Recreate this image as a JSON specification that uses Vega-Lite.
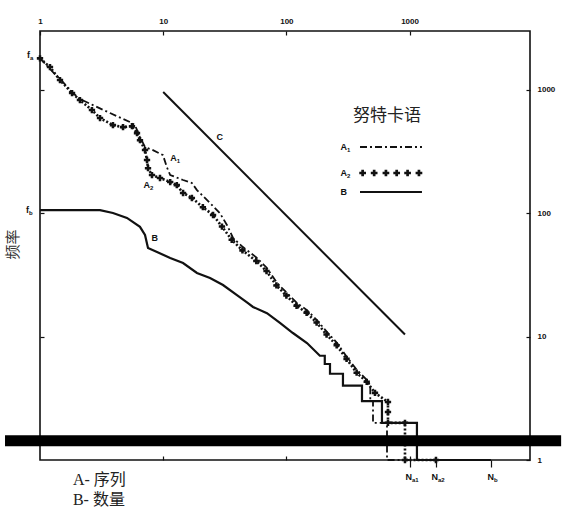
{
  "$schema": "https://vega.github.io/schema/vega-lite/v6.json",
  "width": 490,
  "height": 429,
  "autosize": "none",
  "padding": {"left": 40, "top": 31, "right": 36, "bottom": 54},
  "background": "white",
  "config": {
    "view": {"stroke": "#111", "strokeWidth": 1.6},
    "axis": {"domain": false, "grid": false, "tickColor": "#111", "tickWidth": 1.2, "labelFont": "Liberation Sans", "labelFontWeight": "bold", "labelFontSize": 8, "labelColor": "#111"}
  },
  "datasets": {
    "curves": [
      {"s":"B","i":0,"x":1,"y":106},{"s":"B","i":1,"x":3.07,"y":106},{"s":"B","i":2,"x":3.91,"y":100.5},{"s":"B","i":3,"x":5.08,"y":91.6},{"s":"B","i":4,"x":6.48,"y":77.5},{"s":"B","i":5,"x":7.12,"y":66.7},{"s":"B","i":6,"x":7.53,"y":52.2},{"s":"B","i":7,"x":8.91,"y":48.5},{"s":"B","i":8,"x":11.4,"y":43.4},{"s":"B","i":9,"x":14.5,"y":39.5},{"s":"B","i":10,"x":18.8,"y":32.8},{"s":"B","i":11,"x":24.0,"y":29.9},{"s":"B","i":12,"x":30.6,"y":26.2},{"s":"B","i":13,"x":39.7,"y":21.7},{"s":"B","i":14,"x":48.8,"y":18.7},{"s":"B","i":15,"x":53.6,"y":17.4},{"s":"B","i":16,"x":69.6,"y":15.5},{"s":"B","i":17,"x":88.7,"y":12.9},{"s":"B","i":18,"x":113,"y":10.7},{"s":"B","i":19,"x":147,"y":8.87},{"s":"B","i":20,"x":187,"y":7},{"s":"B","i":21,"x":205,"y":7},{"s":"B","i":22,"x":205,"y":6},{"s":"B","i":23,"x":226,"y":6},{"s":"B","i":24,"x":226,"y":5},{"s":"B","i":25,"x":288,"y":5},{"s":"B","i":26,"x":288,"y":4},{"s":"B","i":27,"x":411,"y":4},{"s":"B","i":28,"x":411,"y":3},{"s":"B","i":29,"x":597,"y":3},{"s":"B","i":30,"x":597,"y":2},{"s":"B","i":31,"x":1148,"y":2},{"s":"B","i":32,"x":1148,"y":1},{"s":"B","i":33,"x":4580,"y":1},
      {"s":"A1","i":0,"x":1,"y":1800},{"s":"A1","i":1,"x":1.275,"y":1394},{"s":"A1","i":2,"x":1.537,"y":1156},{"s":"A1","i":3,"x":1.853,"y":942},{"s":"A1","i":4,"x":2.11,"y":843},{"s":"A1","i":5,"x":2.69,"y":753},{"s":"A1","i":6,"x":3.7,"y":649},{"s":"A1","i":7,"x":5.38,"y":548},{"s":"A1","i":8,"x":5.9,"y":518},{"s":"A1","i":9,"x":6.48,"y":414},{"s":"A1","i":10,"x":7.12,"y":344},{"s":"A1","i":11,"x":8.26,"y":325},{"s":"A1","i":12,"x":9.96,"y":296},{"s":"A1","i":13,"x":10.7,"y":237},{"s":"A1","i":14,"x":11.4,"y":204},{"s":"A1","i":15,"x":14.5,"y":186},{"s":"A1","i":16,"x":17.1,"y":176},{"s":"A1","i":17,"x":18.8,"y":154},{"s":"A1","i":18,"x":24.0,"y":121},{"s":"A1","i":19,"x":28.9,"y":100},{"s":"A1","i":20,"x":33,"y":80},{"s":"A1","i":21,"x":36.9,"y":63},{"s":"A1","i":22,"x":44.4,"y":53.2},{"s":"A1","i":23,"x":57.7,"y":43.4},{"s":"A1","i":24,"x":69.6,"y":36},{"s":"A1","i":25,"x":83.9,"y":27.2},{"s":"A1","i":26,"x":101,"y":22.6},{"s":"A1","i":27,"x":122,"y":18.7},{"s":"A1","i":28,"x":147,"y":16.4},{"s":"A1","i":29,"x":177,"y":13.6},{"s":"A1","i":30,"x":214,"y":10.9},{"s":"A1","i":31,"x":258,"y":8.87},{"s":"A1","i":32,"x":310,"y":6.84},{"s":"A1","i":33,"x":374,"y":5.36},{"s":"A1","i":34,"x":451,"y":4.45},{"s":"A1","i":35,"x":480,"y":4},{"s":"A1","i":36,"x":480,"y":3},{"s":"A1","i":37,"x":505,"y":3},{"s":"A1","i":38,"x":505,"y":2},{"s":"A1","i":39,"x":656,"y":2},{"s":"A1","i":40,"x":656,"y":1},{"s":"A1","i":41,"x":1007,"y":1},
      {"s":"A2","i":0,"x":1,"y":1800},{"s":"A2","i":1,"x":1.205,"y":1530},{"s":"A2","i":2,"x":1.453,"y":1200},{"s":"A2","i":3,"x":1.82,"y":942},{"s":"A2","i":4,"x":2.11,"y":827},{"s":"A2","i":5,"x":2.64,"y":686},{"s":"A2","i":6,"x":3.07,"y":591},{"s":"A2","i":7,"x":3.91,"y":518},{"s":"A2","i":8,"x":4.72,"y":499},{"s":"A2","i":9,"x":5.58,"y":508},{"s":"A2","i":10,"x":6.13,"y":446},{"s":"A2","i":11,"x":6.48,"y":391},{"s":"A2","i":12,"x":7.12,"y":325},{"s":"A2","i":13,"x":7.39,"y":270},{"s":"A2","i":14,"x":7.53,"y":232},{"s":"A2","i":15,"x":8.11,"y":204},{"s":"A2","i":16,"x":9.42,"y":193},{"s":"A2","i":17,"x":11.4,"y":179},{"s":"A2","i":18,"x":12.9,"y":169},{"s":"A2","i":19,"x":14.5,"y":146},{"s":"A2","i":20,"x":17.1,"y":133},{"s":"A2","i":21,"x":21,"y":112},{"s":"A2","i":22,"x":25.4,"y":96.8},{"s":"A2","i":23,"x":30,"y":78},{"s":"A2","i":24,"x":36,"y":61},{"s":"A2","i":25,"x":44,"y":50},{"s":"A2","i":26,"x":57,"y":41},{"s":"A2","i":27,"x":69,"y":34},{"s":"A2","i":28,"x":83,"y":26},{"s":"A2","i":29,"x":100,"y":21.5},{"s":"A2","i":30,"x":121,"y":17.8},{"s":"A2","i":31,"x":146,"y":15.6},{"s":"A2","i":32,"x":176,"y":13},{"s":"A2","i":33,"x":212,"y":10.4},{"s":"A2","i":34,"x":256,"y":8.5},{"s":"A2","i":35,"x":308,"y":6.6},{"s":"A2","i":36,"x":372,"y":5.1},{"s":"A2","i":37,"x":449,"y":4.3},{"s":"A2","i":38,"x":524,"y":3.5},{"s":"A2","i":39,"x":668,"y":2.95},{"s":"A2","i":40,"x":668,"y":2.45},{"s":"A2","i":41,"x":668,"y":2},{"s":"A2","i":42,"x":918,"y":2},{"s":"A2","i":43,"x":918,"y":1},{"s":"A2","i":44,"x":1638,"y":1},
      {"s":"C","i":0,"x":10,"y":960},{"s":"C","i":1,"x":918,"y":10.4}
    ],
    "labels": [
      {"x":0.83,"y":1915,"t":"f","u":"a"},
      {"x":0.814,"y":106,"t":"f","u":"b"},
      {"x":1046,"y":0.728,"t":"N","u":"a1"},
      {"x":1701,"y":0.728,"t":"N","u":"a2"},
      {"x":4842,"y":0.728,"t":"N","u":"b"},
      {"x":12.9,"y":280,"t":"A","u":"1"},
      {"x":7.81,"y":169,"t":"A","u":"2"},
      {"x":9.07,"y":63,"t":"B","u":""},
      {"x":30.6,"y":414,"t":"C","u":""},
      {"x":310,"y":344,"t":"A","u":"1"},
      {"x":310,"y":212,"t":"A","u":"2"},
      {"x":310,"y":149,"t":"B","u":""}
    ],
    "legendLines": [
      {"s":"A1","x":396,"x2":1261,"y":344},
      {"s":"B","x":396,"x2":1261,"y":149}
    ],
    "legendCross": [
      {"x":416,"y":212},{"x":516,"y":212},{"x":643,"y":212},{"x":786,"y":212},{"x":964,"y":212},{"x":1192,"y":212}
    ],
    "notes": [
      {"x":1.85,"y":0.689,"t":"A- 序列"},
      {"x":1.85,"y":0.474,"t":"B- 数量"}
    ],
    "title": [
      {"x":656,"y":619,"t":"努特卡语"}
    ],
    "bar": [
      {"x":0.52,"x2":17000,"y":1.43}
    ]
  },
  "resolve": {"axis": {"x": "independent", "y": "independent"}},
  "layer": [
    {
      "data": {"name": "curves"},
      "transform": [{"filter": "datum.s === 'B'"}],
      "mark": {"type": "line", "color": "#111", "strokeWidth": 2.2, "interpolate": "linear"},
      "encoding": {
        "x": {"field": "x", "type": "quantitative", "scale": {"type": "log", "domain": [1, 9500], "nice": false}, "title": null,
              "axis": {"orient": "top", "values": [1, 10, 100, 1000], "format": "d", "tickSize": -4, "labelPadding": 10, "labelFlush": false}},
        "y": {"field": "y", "type": "quantitative", "scale": {"type": "log", "domain": [1, 3000], "nice": false}, "title": null,
              "axis": {"orient": "right", "values": [1, 10, 100, 1000], "format": "d", "tickSize": -4, "labelPadding": 11, "labelFlush": false}},
        "order": {"field": "i", "type": "quantitative"}
      }
    },
    {
      "data": {"name": "curves"},
      "transform": [{"filter": "datum.s === 'A1'"}],
      "mark": {"type": "line", "color": "#111", "strokeWidth": 1.8, "strokeDash": [7, 3, 2, 3]},
      "encoding": {
        "x": {"field": "x", "type": "quantitative", "scale": {"type": "log", "domain": [1, 9500], "nice": false}, "title": null,
              "axis": {"orient": "bottom", "values": [10, 100, 1000], "tickSize": -4, "labels": false}},
        "y": {"field": "y", "type": "quantitative", "scale": {"type": "log", "domain": [1, 3000], "nice": false}, "title": "频率",
              "axis": {"orient": "left", "values": [10, 100, 1000], "tickSize": -4, "labels": false, "titleX": -20, "titleY": 213, "titleFont": "Noto Sans CJK SC", "titleFontSize": 15, "titleFontWeight": "normal", "titleColor": "#333", "titleAngle": -90}},
        "order": {"field": "i", "type": "quantitative"}
      }
    },
    {
      "data": {"name": "curves"},
      "transform": [{"filter": "datum.s === 'A2'"}],
      "mark": {"type": "line", "color": "#111", "strokeWidth": 2.6, "strokeDash": [2, 2]},
      "encoding": {
        "x": {"field": "x", "type": "quantitative", "scale": {"type": "log", "domain": [1, 9500], "nice": false}, "axis": null},
        "y": {"field": "y", "type": "quantitative", "scale": {"type": "log", "domain": [1, 3000], "nice": false}, "axis": null},
        "order": {"field": "i", "type": "quantitative"}
      }
    },
    {
      "data": {"name": "curves"},
      "transform": [{"filter": "datum.s === 'A2'"}],
      "mark": {"type": "point", "shape": "cross", "filled": true, "color": "#111", "size": 40, "opacity": 1},
      "encoding": {
        "x": {"field": "x", "type": "quantitative", "scale": {"type": "log", "domain": [1, 9500], "nice": false}, "axis": null},
        "y": {"field": "y", "type": "quantitative", "scale": {"type": "log", "domain": [1, 3000], "nice": false}, "axis": null}
      }
    },
    {
      "data": {"name": "curves"},
      "transform": [{"filter": "datum.s === 'C'"}],
      "mark": {"type": "line", "color": "#111", "strokeWidth": 2},
      "encoding": {
        "x": {"field": "x", "type": "quantitative", "scale": {"type": "log", "domain": [1, 9500], "nice": false}, "title": null,
              "axis": {"orient": "bottom", "values": [1007, 1638, 4580], "tickSize": 7, "labels": false}},
        "y": {"field": "y", "type": "quantitative", "scale": {"type": "log", "domain": [1, 3000], "nice": false}, "axis": null},
        "order": {"field": "i", "type": "quantitative"}
      }
    },
    {
      "data": {"name": "legendLines"},
      "mark": {"type": "rule", "color": "#111", "strokeWidth": 2},
      "encoding": {
        "x": {"field": "x", "type": "quantitative", "scale": {"type": "log", "domain": [1, 9500], "nice": false}, "axis": null},
        "x2": {"field": "x2"},
        "y": {"field": "y", "type": "quantitative", "scale": {"type": "log", "domain": [1, 3000], "nice": false}, "axis": null},
        "strokeDash": {"field": "s", "type": "nominal", "scale": {"domain": ["A1", "B"], "range": [[7, 3, 2, 3], [1, 0]]}, "legend": null}
      }
    },
    {
      "data": {"name": "legendCross"},
      "mark": {"type": "point", "shape": "cross", "filled": true, "color": "#111", "size": 45, "opacity": 1},
      "encoding": {
        "x": {"field": "x", "type": "quantitative", "scale": {"type": "log", "domain": [1, 9500], "nice": false}, "axis": null},
        "y": {"field": "y", "type": "quantitative", "scale": {"type": "log", "domain": [1, 3000], "nice": false}, "axis": null}
      }
    },
    {
      "data": {"name": "labels"},
      "mark": {"type": "text", "align": "right", "baseline": "middle", "font": "Liberation Sans", "fontWeight": "bold", "fontSize": 9, "color": "#111"},
      "encoding": {
        "x": {"field": "x", "type": "quantitative", "scale": {"type": "log", "domain": [1, 9500], "nice": false}, "axis": null},
        "y": {"field": "y", "type": "quantitative", "scale": {"type": "log", "domain": [1, 3000], "nice": false}, "axis": null},
        "text": {"field": "t"}
      }
    },
    {
      "data": {"name": "labels"},
      "mark": {"type": "text", "align": "left", "baseline": "middle", "dy": 3, "font": "Liberation Sans", "fontWeight": "bold", "fontSize": 6, "color": "#111"},
      "encoding": {
        "x": {"field": "x", "type": "quantitative", "scale": {"type": "log", "domain": [1, 9500], "nice": false}, "axis": null},
        "y": {"field": "y", "type": "quantitative", "scale": {"type": "log", "domain": [1, 3000], "nice": false}, "axis": null},
        "text": {"field": "u"}
      }
    },
    {
      "data": {"name": "notes"},
      "mark": {"type": "text", "align": "left", "baseline": "middle", "font": "Liberation Serif, Noto Sans CJK SC", "fontSize": 16, "color": "#222"},
      "encoding": {
        "x": {"field": "x", "type": "quantitative", "scale": {"type": "log", "domain": [1, 9500], "nice": false}, "axis": null},
        "y": {"field": "y", "type": "quantitative", "scale": {"type": "log", "domain": [1, 3000], "nice": false}, "axis": null},
        "text": {"field": "t"}
      }
    },
    {
      "data": {"name": "title"},
      "mark": {"type": "text", "align": "center", "baseline": "middle", "font": "Noto Sans CJK SC", "fontSize": 17, "color": "#222"},
      "encoding": {
        "x": {"field": "x", "type": "quantitative", "scale": {"type": "log", "domain": [1, 9500], "nice": false}, "axis": null},
        "y": {"field": "y", "type": "quantitative", "scale": {"type": "log", "domain": [1, 3000], "nice": false}, "axis": null},
        "text": {"field": "t"}
      }
    },
    {
      "data": {"name": "bar"},
      "mark": {"type": "rule", "color": "#000", "strokeWidth": 11},
      "encoding": {
        "x": {"field": "x", "type": "quantitative", "scale": {"type": "log", "domain": [1, 9500], "nice": false}, "axis": null},
        "x2": {"field": "x2"},
        "y": {"field": "y", "type": "quantitative", "scale": {"type": "log", "domain": [1, 3000], "nice": false}, "axis": null}
      }
    }
  ]
}
